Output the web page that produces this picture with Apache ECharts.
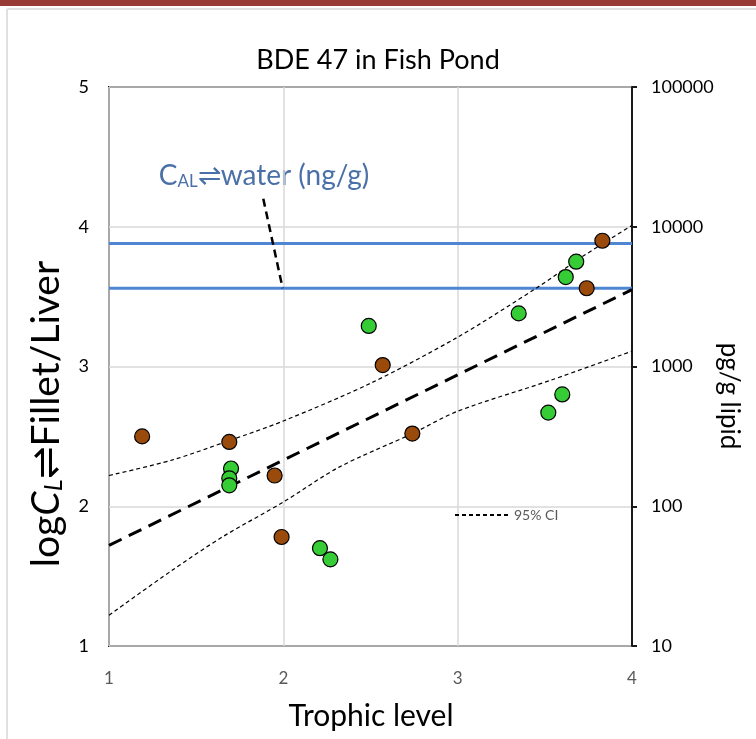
<!DOCTYPE html>
<html>
<head>
<meta charset="utf-8">
<script src="https://cdn.jsdelivr.net/npm/echarts@6/dist/echarts.min.js"></script>
<style>
  html, body { margin: 0; padding: 0; background: #fff; }
  #chart { width: 756px; height: 739px; }
</style>
</head>
<body>
<div id="chart"></div>
<script>
// values (trophic level, log concentration)
const brownFish = [[1.19, 2.50], [1.69, 2.46], [1.95, 2.22], [1.99, 1.78], [2.57, 3.01], [2.74, 2.52], [3.74, 3.56], [3.83, 3.90]];
const greenFish = [[1.70, 2.27], [1.69, 2.20], [1.69, 2.15], [2.21, 1.70], [2.27, 1.62], [2.49, 3.29], [3.35, 3.38], [3.52, 2.67], [3.60, 2.80], [3.62, 3.64], [3.68, 3.75]];
const fitLine = [[1, 1.72], [4, 3.55]];
const ciUpper = [[1, 2.22], [1.36, 2.33], [1.69, 2.47], [2, 2.61], [2.5, 2.88], [3, 3.21], [3.45, 3.56], [3.72, 3.79], [4, 4.01]];
const ciLower = [[1, 1.22], [1.36, 1.54], [1.65, 1.78], [2, 2.03], [2.32, 2.28], [2.74, 2.52], [3, 2.68], [3.53, 2.90], [4, 3.11]];
// water equilibrium band
const waterHigh = [[1, 3.88], [4, 3.88]];
const waterLow = [[1, 3.56], [4, 3.56]];
// dashed pointer from the label down to the band
const pointer = [[1.885, 4.20], [1.996, 3.56]];
const xRange = [1, 4];
const leftRange = [1, 5];
const rightRange = [10, 100000];

const font = 'Lato, "Liberation Sans", sans-serif';
const blue = '#4F86D4';

let chart = echarts.init(document.getElementById('chart'));

let option = {
  backgroundColor: '#fff',
  animation: false,
  textStyle: {fontFamily: font},
  title: {
    text: 'BDE 47 in Fish Pond',
    left: 'center',
    top: 42,
    textStyle: {fontFamily: font, fontSize: 27, fontWeight: 'normal', color: '#000'}
  },
  legend: {
    data: ['95% CI'],
    left: 449,
    top: 503,
    itemWidth: 54,
    itemHeight: 10,
    itemGap: 6,
    itemStyle: {opacity: 0},
    textStyle: {fontFamily: font, fontSize: 14, color: '#595959'}
  },
  grid: {
    left: 109,
    right: 124,
    top: 87,
    bottom: 93,
    show: true,
    borderColor: '#1a1a1a',
    borderWidth: 2
  },
  xAxis: {
    type: 'value',
    min: xRange[0],
    max: xRange[1],
    interval: 1,
    axisLine: {show: false},
    axisTick: {show: false},
    axisLabel: {fontFamily: font, fontSize: 17, color: '#595959', margin: 24},
    splitLine: {show: true, lineStyle: {color: '#d9d9d9', width: 1.5}}
  },
  yAxis: [{
    type: 'value',
    min: leftRange[0],
    max: leftRange[1],
    interval: 1,
    axisLine: {show: false},
    axisTick: {show: false},
    axisLabel: {fontFamily: font, fontSize: 18, color: '#000', margin: 20},
    splitLine: {show: true, lineStyle: {color: '#d9d9d9', width: 1.5}}
  }, {
    type: 'log',
    logBase: 10,
    min: rightRange[0],
    max: rightRange[1],
    position: 'right',
    axisLine: {show: true, lineStyle: {color: '#1a1a1a', width: 2}},
    axisTick: {show: true, inside: false, length: 5, lineStyle: {color: '#1a1a1a', width: 2}},
    axisLabel: {fontFamily: font, fontSize: 18, color: '#000', margin: 19, formatter: v => String(v)},
    splitLine: {show: false}
  }],
  graphic: [
    // slide frame
    {type: 'rect', shape: {x: 0, y: 0, width: 756, height: 6}, style: {fill: '#983b37'}, z: 10},
    {type: 'line', shape: {x1: 7, y1: 9, x2: 756, y2: 9}, style: {stroke: '#e0e0e0', lineWidth: 2}},
    {type: 'line', shape: {x1: 7, y1: 9, x2: 7, y2: 739}, style: {stroke: '#e0e0e0', lineWidth: 2}},
    {
      type: 'text', x: 264, y: 176,
      style: {
        text: '{a|C}{s|AL}{a|⇌water (ng/g)}',
        align: 'center', verticalAlign: 'middle',
        rich: {
          a: {fontFamily: font, fontSize: 28, fill: '#4A70A8'},
          s: {fontFamily: font, fontSize: 17, fill: '#4A70A8', padding: [12, 0, 0, 0]}
        }
      }
    },
    {
      type: 'text', x: 46, y: 414, rotation: Math.PI / 2,
      style: {
        text: '{a|log}{i|C}{s|L}{a|⇌Fillet/Liver}',
        align: 'center', verticalAlign: 'middle',
        rich: {
          a: {fontFamily: font, fontSize: 39, fill: '#000'},
          i: {fontFamily: font, fontSize: 39, fontStyle: 'italic', fill: '#000'},
          s: {fontFamily: font, fontSize: 25, fontStyle: 'italic', fill: '#000', padding: [16, 0, 0, 0]}
        }
      }
    },
    {
      type: 'text', x: 371, y: 716,
      style: {text: 'Trophic level', align: 'center', verticalAlign: 'middle', fontFamily: font, fontSize: 30, fill: '#000'}
    },
    {
      type: 'text', x: 729, y: 396, rotation: -Math.PI / 2,
      style: {text: 'pg/g lipid', align: 'center', verticalAlign: 'middle', fontFamily: font, fontSize: 26, fill: '#000'}
    }
  ],
  series: [
    {
      name: 'water high', type: 'line', data: waterHigh, symbol: 'none', silent: true,
      lineStyle: {color: blue, width: 3}, z: 2
    },
    {
      name: 'water low', type: 'line', data: waterLow, symbol: 'none', silent: true,
      lineStyle: {color: blue, width: 3}, z: 2
    },
    {
      name: 'pointer', type: 'line', data: pointer, symbol: 'none', silent: true,
      lineStyle: {color: '#000', width: 2.5, type: [8, 5]}, z: 3
    },
    {
      name: 'fit', type: 'line', data: fitLine, symbol: 'none', silent: true,
      lineStyle: {color: '#000', width: 3, type: [14, 8]}, z: 3
    },
    {
      name: '95% CI', type: 'line', data: ciUpper, symbol: 'none', smooth: 0.3,
      lineStyle: {color: '#000', width: 1.2, type: [4, 3]}, itemStyle: {color: '#000'}, z: 3
    },
    {
      name: '95% CI', type: 'line', data: ciLower, symbol: 'none', smooth: 0.3,
      lineStyle: {color: '#000', width: 1.2, type: [4, 3]}, itemStyle: {color: '#000'}, z: 3
    },
    {
      name: 'brown', type: 'scatter', data: brownFish, symbolSize: 15,
      itemStyle: {color: '#9A4A0A', borderColor: '#000', borderWidth: 1.2, opacity: 1}, z: 5
    },
    {
      name: 'green', type: 'scatter', data: greenFish, symbolSize: 15,
      itemStyle: {color: '#35CC35', borderColor: '#000', borderWidth: 1.2, opacity: 1}, z: 5
    }
  ]
};

chart.setOption(option);
</script>
</body>
</html>
